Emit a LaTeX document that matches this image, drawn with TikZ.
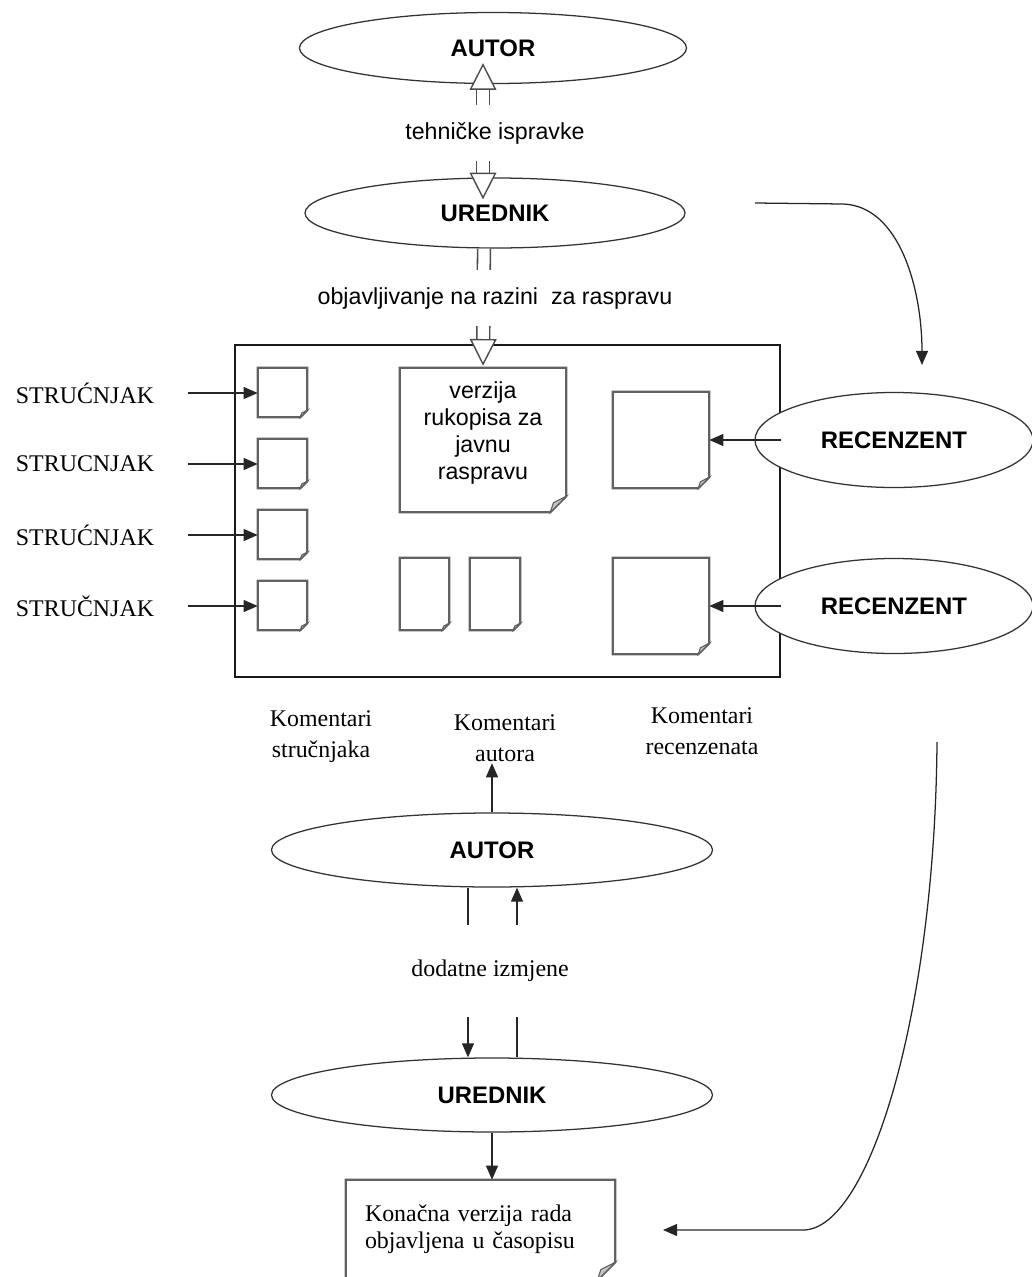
\documentclass[tikz,border=0pt]{standalone}
\usepackage{fontspec}
\setmainfont{Liberation Serif}
\setsansfont{Liberation Sans}
\usetikzlibrary{arrows.meta,shapes.geometric,calc,positioning}
\def\px{0.025cm}
\tikzset{
  role/.style={ellipse, draw=black!80, line width=0.9pt, fill=white, inner sep=0pt,
    font=\sffamily\bfseries\fontsize{17}{19}\selectfont},
  sheet/.style={inner sep=0pt},
  sheetline/.style={draw=black!62, line width=1.5pt, line join=miter},
  frame/.style={draw=black!90, line width=0.8pt, inner sep=0pt},
  serifnote/.style={align=center, inner sep=1pt, font=\fontsize{17}{22}\selectfont},
  sansnote/.style={fill=white, inner xsep=3pt, inner ysep=12pt,
    font=\sffamily\fontsize{16.5}{19}\selectfont},
  arr/.style={draw=black!85, line width=1pt, -{Triangle[length=10pt, width=8.5pt]}},
  hollow/.style={draw=black!70, line width=1.1pt, double=white, double distance=8pt,
    -{Triangle[open, fill=white, length=19pt, width=19pt, line width=1pt]}},
  hollowboth/.style={hollow, {Triangle[open, fill=white, length=19pt, width=19pt, line width=1pt]}-{Triangle[open, fill=white, length=19pt, width=19pt, line width=1pt]}}
}
\newcommand{\sheetoutline}[2]{%
  \draw[sheetline, fill=white] (#1.north west) -- (#1.north east) -- ($(#1.south east)+(0,-#2)$)
    -- ($(#1.south east)+(-#2,0)$) -- (#1.south west) -- cycle;
  \draw[sheetline, line width=0.8pt, fill=gray!45] ($(#1.south east)+(0,-#2)$) -- ($(#1.south east)+(-#2,0)$)
    -- ($(#1.south east)+(-0.8*#2,-0.6*#2)$) -- cycle;
}
\begin{document}
\begin{tikzpicture}[x=\px, y=-\px]
	\useasboundingbox (0,0) rectangle (1032,1277);
	\node[frame, minimum width=545*\px, minimum height=332*\px] (board) at (507.5,511) {};
	\node[role, minimum width=387*\px, minimum height=71*\px] (autorA) at (493,48) {AUTOR};
	\node[role, minimum width=380*\px, minimum height=70*\px] (urednikA) at (495,213) {UREDNIK};
	\node[role, minimum width=278*\px, minimum height=95*\px] (recA) at (894,440) {RECENZENT};
	\node[role, minimum width=278*\px, minimum height=95*\px] (recB) at (894,606) {RECENZENT};
	\node[role, minimum width=441*\px, minimum height=74*\px] (autorB) at (492,850) {AUTOR};
	\node[role, minimum width=441*\px, minimum height=74*\px] (urednikB) at (492,1095) {UREDNIK};
	% sheets in the board
	\node[sheet, minimum width=166*\px, minimum height=144*\px] (draft) at (483,440) {};
	\sheetoutline{draft}{16}
	\node[align=center, inner sep=0pt, font=\sffamily\fontsize{16.5}{19}\selectfont] (drafttext) at (483,433) {verzija\\rukopisa za\\javnu\\raspravu};
	\node[sheet, minimum width=96*\px, minimum height=96*\px] (revA) at (661,440) {};
	\node[sheet, minimum width=96*\px, minimum height=96*\px] (revB) at (661,606) {};
	\node[sheet, minimum width=49*\px, minimum height=72*\px] (ansA) at (424.5,594) {};
	\node[sheet, minimum width=50*\px, minimum height=72*\px] (ansB) at (495,594) {};
	\sheetoutline{revA}{11}
	\sheetoutline{revB}{11}
	\sheetoutline{ansA}{7}
	\sheetoutline{ansB}{7}
	\foreach \i/\name in {0/STRUĆNJAK,1/STRUCNJAK,2/STRUĆNJAK,3/STRUČNJAK}
	{
		\node[sheet, minimum width=49*\px, minimum height=49*\px] (exp\i) at (282.5,{392.5+71*\i}) {};
		\sheetoutline{exp\i}{7}
		\node[serifnote] (expert\i) at (85,{393+71*\i}) {\name};
		\draw[arr] ($(expert\i.east)+(32,0)$) -- (exp\i.west |- expert\i);
	}
	\draw[arr] (board.east |- recA) -- (revA.east |- recA);
	\draw[arr] (board.east |- recB) -- (revB.east |- recB);
	% hollow arrows
	\draw[hollowboth] ($(urednikA.north)+(-12,22)$) -- ($(autorA.south)+(-10,-21)$);
	\draw[hollow] ($(urednikA.south)+(-11,0)$) -- ($(draft.north)+(0,-2)$);
	\node[sansnote] (fixes) at (495,133) {tehničke ispravke};
	\node[sansnote] (publish) at (495,298) {objavljivanje na razini \ za raspravu};
	% comments
	\node[serifnote] (comExp) at (321,737) {Komentari\\stručnjaka};
	\node[serifnote] (comAut) at (505,738) {Komentari\\autora};
	\node[serifnote] (comRev) at (702,731) {Komentari\\recenzenata};
	\draw[arr] (autorB.north) -- (autorB.north |- comAut.south);
	% changes between autor and urednik
	\draw[arr] ($(autorB.south)+(-24,0)$) -- ($(urednikB.north)+(-24,0)$);
	\draw[arr] ($(urednikB.north)+(25,0)$) -- ($(autorB.south)+(25,0)$);
	\node[serifnote, fill=white, inner ysep=25pt, inner xsep=4pt] (changes) at (490,971) {dodatne izmjene};
	% final
	\node[sheet, minimum width=269*\px, minimum height=100*\px] (final) at (480.5,1230) {};
	\sheetoutline{final}{18}
	\node[sheet, text width=231*\px, align=left, font=\fontsize{17}{19.5}\selectfont] (finaltext) at (480.5,1229) {Konačna verzija rada\\objavljena u časopisu};
	\draw[arr] (urednikB.south) -- (urednikB.south |- final.north);
	% curved routes
	\coordinate (bendA) at (755,203);
	\coordinate (bendB) at (937,742);
	\coordinate (finalIn) at (663,1230);
	\draw[arr, line width=0.9pt] (bendA) -- (843,204) .. controls (900,206) and (922,290) .. (922,365);
	\draw[arr, line width=0.9pt] (bendB) .. controls (935,1010) and (870,1230) .. (803,1230) -- (finalIn);
\end{tikzpicture}
\end{document}
